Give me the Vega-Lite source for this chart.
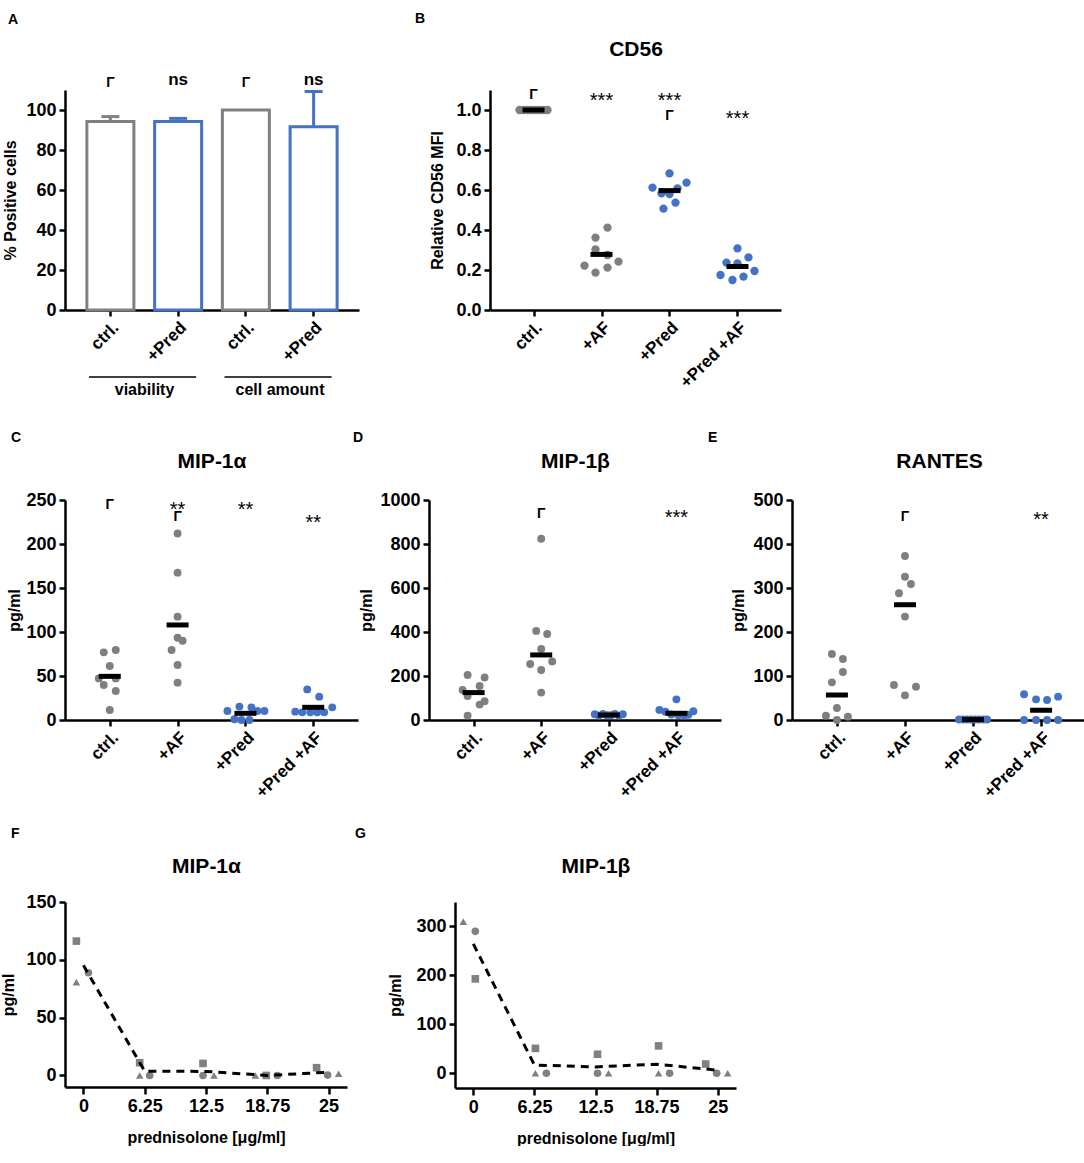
{
  "$schema": "https://vega.github.io/schema/vega-lite/v6.json",
  "padding": {"left": 0, "top": 12, "right": 0, "bottom": 0},
  "background": "white",
  "spacing": 33,
  "resolve": {"scale": {"color": "independent", "stroke": "independent", "shape": "independent"}},
  "config": {
    "font": "Liberation Sans",
    "view": {"stroke": null},
    "axis": {"grid": false, "domainColor": "#000", "domainWidth": 2.5, "tickColor": "#000", "tickWidth": 2.5, "tickSize": 6,
      "labelColor": "#000", "labelFont": "Liberation Sans", "labelFontWeight": "bold", "labelFontSize": 18, "labelPadding": 3,
      "titleColor": "#000", "titleFont": "Liberation Sans", "titleFontWeight": "bold", "titleFontSize": 16, "titlePadding": 6},
    "title": {"font": "Liberation Sans", "fontSize": 14, "fontWeight": "bold", "color": "#000", "anchor": "start", "frame": "bounds", "baseline": "bottom"},
    "text": {"font": "Liberation Sans", "color": "#000"}
  },
  "datasets": {
    "A_bars": [
      {"key": "viability|ctrl.", "value": 94.2, "upper": 96.7},
      {"key": "viability|+Pred", "value": 94.2, "upper": 95.8},
      {"key": "cell amount|ctrl.", "value": 100, "upper": null},
      {"key": "cell amount|+Pred", "value": 91.6, "upper": 109.2}
    ],
    "A_sig": [
      {"key": "viability|ctrl.", "label": "Γ", "pos": 113.5},
      {"key": "viability|+Pred", "label": "ns", "pos": 115},
      {"key": "cell amount|ctrl.", "label": "Γ", "pos": 113.5},
      {"key": "cell amount|+Pred", "label": "ns", "pos": 115}
    ],
    "A_groups": [
      {"assay": "viability", "from": "viability|ctrl.", "to": "viability|+Pred"},
      {"assay": "cell amount", "from": "cell amount|ctrl.", "to": "cell amount|+Pred"}
    ],
    "B_pts": [
      {"group": "ctrl.", "value": 1.0, "jitter": -14}, {"group": "ctrl.", "value": 1.0, "jitter": -10},
      {"group": "ctrl.", "value": 1.0, "jitter": -6}, {"group": "ctrl.", "value": 1.0, "jitter": -2},
      {"group": "ctrl.", "value": 1.0, "jitter": 2}, {"group": "ctrl.", "value": 1.0, "jitter": 6},
      {"group": "ctrl.", "value": 1.0, "jitter": 10}, {"group": "ctrl.", "value": 1.0, "jitter": 14},
      {"group": "+AF", "value": 0.412, "jitter": 6}, {"group": "+AF", "value": 0.362, "jitter": -6},
      {"group": "+AF", "value": 0.303, "jitter": -6}, {"group": "+AF", "value": 0.275, "jitter": 6},
      {"group": "+AF", "value": 0.222, "jitter": -17}, {"group": "+AF", "value": 0.242, "jitter": 17},
      {"group": "+AF", "value": 0.187, "jitter": -6}, {"group": "+AF", "value": 0.212, "jitter": 6},
      {"group": "+Pred", "value": 0.683, "jitter": 0}, {"group": "+Pred", "value": 0.612, "jitter": -17},
      {"group": "+Pred", "value": 0.637, "jitter": 17}, {"group": "+Pred", "value": 0.608, "jitter": 8},
      {"group": "+Pred", "value": 0.583, "jitter": -8}, {"group": "+Pred", "value": 0.58, "jitter": 0},
      {"group": "+Pred", "value": 0.537, "jitter": 6}, {"group": "+Pred", "value": 0.507, "jitter": -6},
      {"group": "+Pred +AF", "value": 0.308, "jitter": 0}, {"group": "+Pred +AF", "value": 0.237, "jitter": -11},
      {"group": "+Pred +AF", "value": 0.233, "jitter": 0}, {"group": "+Pred +AF", "value": 0.263, "jitter": 11},
      {"group": "+Pred +AF", "value": 0.175, "jitter": -17}, {"group": "+Pred +AF", "value": 0.195, "jitter": 17},
      {"group": "+Pred +AF", "value": 0.15, "jitter": -5}, {"group": "+Pred +AF", "value": 0.167, "jitter": 6}
    ],
    "B_mean": [
      {"group": "ctrl.", "center": 1.0}, {"group": "+AF", "center": 0.278},
      {"group": "+Pred", "center": 0.597}, {"group": "+Pred +AF", "center": 0.217}
    ],
    "B_sig": [
      {"group": "ctrl.", "label": "Γ", "pos": 1.075},
      {"group": "+AF", "label": "***", "pos": 1.062},
      {"group": "+Pred", "label": "***", "pos": 1.062},
      {"group": "+Pred", "label": "Γ", "pos": 0.97},
      {"group": "+Pred +AF", "label": "***", "pos": 0.97}
    ],
    "C_pts": [
      {"group": "ctrl.", "value": 76.9, "jitter": -6}, {"group": "ctrl.", "value": 79.5, "jitter": 6},
      {"group": "ctrl.", "value": 61.4, "jitter": 0}, {"group": "ctrl.", "value": 47.3, "jitter": -11},
      {"group": "ctrl.", "value": 47.3, "jitter": 6}, {"group": "ctrl.", "value": 39.8, "jitter": -6},
      {"group": "ctrl.", "value": 33, "jitter": 6}, {"group": "ctrl.", "value": 11.4, "jitter": 0},
      {"group": "+AF", "value": 212, "jitter": 0}, {"group": "+AF", "value": 167.4, "jitter": 0},
      {"group": "+AF", "value": 117.4, "jitter": 0}, {"group": "+AF", "value": 93.5, "jitter": 0},
      {"group": "+AF", "value": 90.1, "jitter": 5}, {"group": "+AF", "value": 79.5, "jitter": -6},
      {"group": "+AF", "value": 62.5, "jitter": 0}, {"group": "+AF", "value": 42.4, "jitter": 0},
      {"group": "+Pred", "value": 10.2, "jitter": -18}, {"group": "+Pred", "value": 15.2, "jitter": -6},
      {"group": "+Pred", "value": 14.4, "jitter": 6}, {"group": "+Pred", "value": 10.2, "jitter": 12},
      {"group": "+Pred", "value": 10.2, "jitter": 19}, {"group": "+Pred", "value": 0.8, "jitter": -11},
      {"group": "+Pred", "value": 0, "jitter": -4}, {"group": "+Pred", "value": 0, "jitter": 4},
      {"group": "+Pred +AF", "value": 34.8, "jitter": -6}, {"group": "+Pred +AF", "value": 26.5, "jitter": 6},
      {"group": "+Pred +AF", "value": 9.5, "jitter": -18}, {"group": "+Pred +AF", "value": 8.7, "jitter": -11},
      {"group": "+Pred +AF", "value": 8.7, "jitter": -3}, {"group": "+Pred +AF", "value": 8.7, "jitter": 4},
      {"group": "+Pred +AF", "value": 8.7, "jitter": 11}, {"group": "+Pred +AF", "value": 14.4, "jitter": 19}
    ],
    "C_mean": [
      {"group": "ctrl.", "center": 49.6}, {"group": "+AF", "center": 108},
      {"group": "+Pred", "center": 7.6}, {"group": "+Pred +AF", "center": 14.4}
    ],
    "C_sig": [
      {"group": "ctrl.", "label": "Γ", "pos": 244},
      {"group": "+AF", "label": "**", "pos": 242},
      {"group": "+AF", "label": "Γ", "pos": 230.7},
      {"group": "+Pred", "label": "**", "pos": 242},
      {"group": "+Pred +AF", "label": "**", "pos": 227}
    ],
    "D_pts": [
      {"group": "ctrl.", "value": 204.8, "jitter": -6}, {"group": "ctrl.", "value": 193, "jitter": 11},
      {"group": "ctrl.", "value": 154.7, "jitter": 6}, {"group": "ctrl.", "value": 136.5, "jitter": -11},
      {"group": "ctrl.", "value": 109.2, "jitter": -6}, {"group": "ctrl.", "value": 85, "jitter": 11},
      {"group": "ctrl.", "value": 70, "jitter": 6}, {"group": "ctrl.", "value": 20, "jitter": -6},
      {"group": "+AF", "value": 823.6, "jitter": 0}, {"group": "+AF", "value": 405, "jitter": -5},
      {"group": "+AF", "value": 391, "jitter": 6}, {"group": "+AF", "value": 323, "jitter": 0},
      {"group": "+AF", "value": 254.8, "jitter": -11}, {"group": "+AF", "value": 265.7, "jitter": 11},
      {"group": "+AF", "value": 227.5, "jitter": 0}, {"group": "+AF", "value": 124.7, "jitter": 0},
      {"group": "+Pred", "value": 26, "jitter": -14}, {"group": "+Pred", "value": 28, "jitter": -6},
      {"group": "+Pred", "value": 28, "jitter": 6}, {"group": "+Pred", "value": 26, "jitter": 14},
      {"group": "+Pred", "value": 20, "jitter": -10}, {"group": "+Pred", "value": 22, "jitter": -2},
      {"group": "+Pred", "value": 22, "jitter": 2}, {"group": "+Pred", "value": 20, "jitter": 10},
      {"group": "+Pred +AF", "value": 94, "jitter": 0}, {"group": "+Pred +AF", "value": 46, "jitter": -17},
      {"group": "+Pred +AF", "value": 38, "jitter": -11}, {"group": "+Pred +AF", "value": 40, "jitter": 17},
      {"group": "+Pred +AF", "value": 25, "jitter": -5}, {"group": "+Pred +AF", "value": 22, "jitter": 2},
      {"group": "+Pred +AF", "value": 20, "jitter": 8}, {"group": "+Pred +AF", "value": 24, "jitter": 12}
    ],
    "D_mean": [
      {"group": "ctrl.", "center": 124.6}, {"group": "+AF", "center": 295.8},
      {"group": "+Pred", "center": 22.7}, {"group": "+Pred +AF", "center": 30.5}
    ],
    "D_sig": [
      {"group": "+AF", "label": "Γ", "pos": 936},
      {"group": "+Pred +AF", "label": "***", "pos": 930}
    ],
    "E_pts": [
      {"group": "ctrl.", "value": 150, "jitter": -5}, {"group": "ctrl.", "value": 138.6, "jitter": 6},
      {"group": "ctrl.", "value": 109, "jitter": 6}, {"group": "ctrl.", "value": 85.6, "jitter": -5},
      {"group": "ctrl.", "value": 27.3, "jitter": 0}, {"group": "ctrl.", "value": 9.8, "jitter": -11},
      {"group": "ctrl.", "value": 7.6, "jitter": 11}, {"group": "ctrl.", "value": 0, "jitter": 0},
      {"group": "+AF", "value": 372.7, "jitter": 0}, {"group": "+AF", "value": 325.7, "jitter": 0},
      {"group": "+AF", "value": 309, "jitter": 6}, {"group": "+AF", "value": 288, "jitter": -6},
      {"group": "+AF", "value": 235, "jitter": 0}, {"group": "+AF", "value": 79.5, "jitter": -11},
      {"group": "+AF", "value": 75.8, "jitter": 11}, {"group": "+AF", "value": 56, "jitter": 0},
      {"group": "+Pred", "value": 1, "jitter": -14}, {"group": "+Pred", "value": 1, "jitter": -10},
      {"group": "+Pred", "value": 1, "jitter": -6}, {"group": "+Pred", "value": 1, "jitter": -2},
      {"group": "+Pred", "value": 1, "jitter": 2}, {"group": "+Pred", "value": 1, "jitter": 6},
      {"group": "+Pred", "value": 1, "jitter": 10}, {"group": "+Pred", "value": 1, "jitter": 14},
      {"group": "+Pred +AF", "value": 58.4, "jitter": -17}, {"group": "+Pred +AF", "value": 47, "jitter": -5},
      {"group": "+Pred +AF", "value": 45.5, "jitter": 6}, {"group": "+Pred +AF", "value": 53, "jitter": 17},
      {"group": "+Pred +AF", "value": 0, "jitter": -17}, {"group": "+Pred +AF", "value": 0, "jitter": -5},
      {"group": "+Pred +AF", "value": 0, "jitter": 6}, {"group": "+Pred +AF", "value": 0, "jitter": 17}
    ],
    "E_mean": [
      {"group": "ctrl.", "center": 56.8}, {"group": "+AF", "center": 262},
      {"group": "+Pred", "center": 1}, {"group": "+Pred +AF", "center": 22}
    ],
    "E_sig": [
      {"group": "+AF", "label": "Γ", "pos": 462},
      {"group": "+Pred +AF", "label": "**", "pos": 462}
    ],
    "F": [
      {"conc": "0", "donor": "a", "value": 116.2, "jitter": -7},
      {"conc": "0", "donor": "b", "value": 80.7, "jitter": -7},
      {"conc": "0", "donor": "c", "value": 88.8, "jitter": 5},
      {"conc": "6.25", "donor": "a", "value": 11, "jitter": -5},
      {"conc": "6.25", "donor": "b", "value": 0, "jitter": -5},
      {"conc": "6.25", "donor": "c", "value": 0, "jitter": 5},
      {"conc": "12.5", "donor": "a", "value": 10.4, "jitter": -3},
      {"conc": "12.5", "donor": "c", "value": 0, "jitter": -3},
      {"conc": "12.5", "donor": "b", "value": 0, "jitter": 8},
      {"conc": "18.75", "donor": "b", "value": 0, "jitter": -12},
      {"conc": "18.75", "donor": "a", "value": 0, "jitter": -1},
      {"conc": "18.75", "donor": "c", "value": 0, "jitter": 10},
      {"conc": "25", "donor": "a", "value": 6.7, "jitter": -12},
      {"conc": "25", "donor": "c", "value": 0.3, "jitter": -1},
      {"conc": "25", "donor": "b", "value": 1.5, "jitter": 10}
    ],
    "G": [
      {"conc": "0", "donor": "b", "value": 310, "jitter": -10},
      {"conc": "0", "donor": "c", "value": 290, "jitter": 2},
      {"conc": "0", "donor": "a", "value": 193, "jitter": 2},
      {"conc": "6.25", "donor": "a", "value": 51, "jitter": 1},
      {"conc": "6.25", "donor": "b", "value": 0, "jitter": 1},
      {"conc": "6.25", "donor": "c", "value": 0, "jitter": 12},
      {"conc": "12.5", "donor": "a", "value": 39, "jitter": 2},
      {"conc": "12.5", "donor": "c", "value": 0, "jitter": 2},
      {"conc": "12.5", "donor": "b", "value": 0, "jitter": 13},
      {"conc": "18.75", "donor": "a", "value": 56, "jitter": 2},
      {"conc": "18.75", "donor": "b", "value": 0, "jitter": 2},
      {"conc": "18.75", "donor": "c", "value": 0, "jitter": 13},
      {"conc": "25", "donor": "a", "value": 19, "jitter": -12},
      {"conc": "25", "donor": "c", "value": 0, "jitter": -1},
      {"conc": "25", "donor": "b", "value": 0, "jitter": 10}
    ]
  },
  "vconcat": [
    {
      "hconcat": [
        {
          "width": 294, "height": 220,
          "title": {"text": "A", "offset": 44, "dx": 5},
          "layer": [
            {"data": {"name": "A_bars"},
              "mark": {"type": "bar", "fill": "white", "strokeWidth": 3, "size": 47},
              "encoding": {
                "x": {"field": "key", "type": "nominal", "scale": {"type": "band", "paddingInner": 0.3, "paddingOuter": 0.32, "domain": ["viability|ctrl.", "viability|+Pred", "cell amount|ctrl.", "cell amount|+Pred"]},
                  "axis": {"title": null, "labelAngle": -45, "labelFontSize": 17, "labelExpr": "split(datum.value, '|')[1]"}},
                "y": {"field": "value", "type": "quantitative", "scale": {"domain": [0, 110], "nice": false}, "axis": {"title": "% Positive cells", "values": [0, 20, 40, 60, 80, 100], "titlePadding": 7}},
                "stroke": {"field": "key", "type": "nominal", "scale": {"domain": ["viability|ctrl.", "viability|+Pred", "cell amount|ctrl.", "cell amount|+Pred"], "range": ["#808080", "#4472c4", "#808080", "#4472c4"]}, "legend": null}
              }},
            {"data": {"name": "A_bars"}, "transform": [{"filter": "isValid(datum.upper)"}],
              "mark": {"type": "rule", "strokeWidth": 3},
              "encoding": {
                "x": {"field": "key", "type": "nominal"},
                "y": {"field": "value", "type": "quantitative"},
                "y2": {"field": "upper"},
                "color": {"field": "key", "type": "nominal", "scale": {"domain": ["viability|ctrl.", "viability|+Pred", "cell amount|ctrl.", "cell amount|+Pred"], "range": ["#808080", "#4472c4", "#808080", "#4472c4"]}, "legend": null}
              }},
            {"data": {"name": "A_bars"}, "transform": [{"filter": "isValid(datum.upper)"}],
              "mark": {"type": "tick", "thickness": 3, "size": 18, "opacity": 1},
              "encoding": {
                "x": {"field": "key", "type": "nominal"},
                "y": {"field": "upper", "type": "quantitative"},
                "color": {"field": "key", "type": "nominal", "scale": {"domain": ["viability|ctrl.", "viability|+Pred", "cell amount|ctrl.", "cell amount|+Pred"], "range": ["#808080", "#4472c4", "#808080", "#4472c4"]}, "legend": null}
              }},
            {"data": {"name": "A_sig"}, "transform": [{"filter": "datum.label == 'Γ'"}],
              "mark": {"type": "text", "fontSize": 14, "fontWeight": "bold", "baseline": "middle"},
              "encoding": {"x": {"field": "key", "type": "nominal"}, "y": {"field": "pos", "type": "quantitative"}, "text": {"field": "label"}}},
            {"data": {"name": "A_sig"}, "transform": [{"filter": "datum.label == 'ns'"}],
              "mark": {"type": "text", "fontSize": 17, "fontWeight": "bold", "baseline": "middle"},
              "encoding": {"x": {"field": "key", "type": "nominal"}, "y": {"field": "pos", "type": "quantitative"}, "text": {"field": "label"}}},
            {"data": {"name": "A_groups"},
              "mark": {"type": "rule", "strokeWidth": 1.5, "color": "#000"},
              "encoding": {"x": {"field": "from", "type": "nominal", "bandPosition": 0.05}, "x2": {"field": "to", "bandPosition": 0.88}, "y": {"datum": -33.5}}},
            {"data": {"name": "A_groups"},
              "mark": {"type": "text", "fontSize": 16, "fontWeight": "bold", "baseline": "middle"},
              "encoding": {"x": {"field": "from", "type": "nominal", "bandPosition": 1.22}, "y": {"datum": -40}, "text": {"field": "assay"}}}
          ]
        },
        {
          "width": 291, "height": 220,
          "title": {"text": "B", "offset": 12, "dx": -15},
          "resolve": {"axis": {"x": "independent"}},
          "layer": [
            {"data": {"name": "B_pts"},
              "mark": {"type": "circle", "size": 70, "opacity": 1},
              "encoding": {
                "x": {"field": "group", "type": "nominal", "scale": {"type": "point", "padding": 0.64, "domain": ["ctrl.", "+AF", "+Pred", "+Pred +AF"]}, "axis": {"title": null, "labelAngle": -45, "labelFontSize": 17}},
                "xOffset": {"field": "jitter", "type": "quantitative", "scale": {"domain": [-30, 30], "range": [-30, 30]}},
                "y": {"field": "value", "type": "quantitative", "scale": {"domain": [0, 1.1], "nice": false}, "axis": {"title": "Relative CD56 MFI", "values": [0, 0.2, 0.4, 0.6, 0.8, 1.0], "format": ".1f", "titlePadding": 10}},
                "color": {"field": "group", "type": "nominal", "scale": {"domain": ["ctrl.", "+AF", "+Pred", "+Pred +AF"], "range": ["#7f7f7f", "#7f7f7f", "#4472c4", "#4472c4"]}, "legend": null}
              }},
            {"data": {"name": "B_mean"},
              "mark": {"type": "tick", "color": "#000", "thickness": 5, "size": 22, "opacity": 1},
              "encoding": {
                "x": {"field": "group", "type": "nominal", "axis": {"orient": "top", "title": "CD56", "labels": false, "ticks": false, "domain": false, "titleFontSize": 21, "titlePadding": 31, "minExtent": 0, "maxExtent": 0}},
                "y": {"field": "center", "type": "quantitative"}
              }},
            {"data": {"name": "B_sig"}, "transform": [{"filter": "datum.label == 'Γ'"}],
              "mark": {"type": "text", "fontSize": 14, "fontWeight": "bold", "baseline": "middle"},
              "encoding": {"x": {"field": "group", "type": "nominal", "axis": null}, "y": {"field": "pos", "type": "quantitative"}, "text": {"field": "label"}}},
            {"data": {"name": "B_sig"}, "transform": [{"filter": "datum.label != 'Γ'"}],
              "mark": {"type": "text", "fontSize": 20, "fontWeight": "normal", "baseline": "middle", "dy": 3},
              "encoding": {"x": {"field": "group", "type": "nominal", "axis": null}, "y": {"field": "pos", "type": "quantitative"}, "text": {"field": "label"}}}
          ]
        }
      ],
      "spacing": 131,
      "bounds": "flush",
      "resolve": {"scale": {"color": "independent", "stroke": "independent", "shape": "independent"}}
    },
    {
      "vconcat": [
        {
          "hconcat": [
            {
              "width": 293, "height": 220,
              "title": {"text": "C", "offset": 5, "dx": 4},
              "resolve": {"axis": {"x": "independent"}},
              "layer": [
                {"data": {"name": "C_pts"},
                  "mark": {"type": "circle", "size": 62, "opacity": 1},
                  "encoding": {
                    "x": {"field": "group", "type": "nominal", "scale": {"type": "point", "padding": 0.66, "domain": ["ctrl.", "+AF", "+Pred", "+Pred +AF"]}, "axis": {"title": null, "labelAngle": -45, "labelFontSize": 17}},
                    "xOffset": {"field": "jitter", "type": "quantitative", "scale": {"domain": [-30, 30], "range": [-30, 30]}},
                    "y": {"field": "value", "type": "quantitative", "scale": {"domain": [0, 250], "nice": false}, "axis": {"title": "pg/ml", "values": [0, 50, 100, 150, 200, 250], "titlePadding": 3}},
                    "color": {"field": "group", "type": "nominal", "scale": {"domain": ["ctrl.", "+AF", "+Pred", "+Pred +AF"], "range": ["#7f7f7f", "#7f7f7f", "#4472c4", "#4472c4"]}, "legend": null}
                  }},
                {"data": {"name": "C_mean"},
                  "mark": {"type": "tick", "color": "#000", "thickness": 5, "size": 22, "opacity": 1},
                  "encoding": {
                    "x": {"field": "group", "type": "nominal", "axis": {"orient": "top", "title": "MIP-1α", "labels": false, "ticks": false, "domain": false, "titleFontSize": 21, "titlePadding": 29, "minExtent": 0, "maxExtent": 0}},
                    "y": {"field": "center", "type": "quantitative"}
                  }},
                {"data": {"name": "C_sig"}, "transform": [{"filter": "datum.label == 'Γ'"}],
                  "mark": {"type": "text", "fontSize": 14, "fontWeight": "bold", "baseline": "middle"},
                  "encoding": {"x": {"field": "group", "type": "nominal", "axis": null}, "y": {"field": "pos", "type": "quantitative"}, "text": {"field": "label"}}},
                {"data": {"name": "C_sig"}, "transform": [{"filter": "datum.label != 'Γ'"}],
                  "mark": {"type": "text", "fontSize": 20, "fontWeight": "normal", "baseline": "middle", "dy": 3},
                  "encoding": {"x": {"field": "group", "type": "nominal", "axis": null}, "y": {"field": "pos", "type": "quantitative"}, "text": {"field": "label"}}}
              ]
            },
            {
              "width": 292, "height": 220,
              "title": {"text": "D", "offset": 5, "dx": -6},
              "resolve": {"axis": {"x": "independent"}},
              "layer": [
                {"data": {"name": "D_pts"},
                  "mark": {"type": "circle", "size": 62, "opacity": 1},
                  "encoding": {
                    "x": {"field": "group", "type": "nominal", "scale": {"type": "point", "padding": 0.66, "domain": ["ctrl.", "+AF", "+Pred", "+Pred +AF"]}, "axis": {"title": null, "labelAngle": -45, "labelFontSize": 17}},
                    "xOffset": {"field": "jitter", "type": "quantitative", "scale": {"domain": [-30, 30], "range": [-30, 30]}},
                    "y": {"field": "value", "type": "quantitative", "scale": {"domain": [0, 1000], "nice": false}, "axis": {"title": "pg/ml", "values": [0, 200, 400, 600, 800, 1000], "format": "d", "titlePadding": 5}},
                    "color": {"field": "group", "type": "nominal", "scale": {"domain": ["ctrl.", "+AF", "+Pred", "+Pred +AF"], "range": ["#7f7f7f", "#7f7f7f", "#4472c4", "#4472c4"]}, "legend": null}
                  }},
                {"data": {"name": "D_mean"},
                  "mark": {"type": "tick", "color": "#000", "thickness": 5, "size": 22, "opacity": 1},
                  "encoding": {
                    "x": {"field": "group", "type": "nominal", "axis": {"orient": "top", "title": "MIP-1β", "labels": false, "ticks": false, "domain": false, "titleFontSize": 21, "titlePadding": 29, "minExtent": 0, "maxExtent": 0}},
                    "y": {"field": "center", "type": "quantitative"}
                  }},
                {"data": {"name": "D_sig"}, "transform": [{"filter": "datum.label == 'Γ'"}],
                  "mark": {"type": "text", "fontSize": 14, "fontWeight": "bold", "baseline": "middle"},
                  "encoding": {"x": {"field": "group", "type": "nominal", "axis": null}, "y": {"field": "pos", "type": "quantitative"}, "text": {"field": "label"}}},
                {"data": {"name": "D_sig"}, "transform": [{"filter": "datum.label != 'Γ'"}],
                  "mark": {"type": "text", "fontSize": 20, "fontWeight": "normal", "baseline": "middle", "dy": 3},
                  "encoding": {"x": {"field": "group", "type": "nominal", "axis": null}, "y": {"field": "pos", "type": "quantitative"}, "text": {"field": "label"}}}
              ]
            },
            {
              "width": 294, "height": 220,
              "title": {"text": "E", "offset": 5, "dx": -23},
              "resolve": {"axis": {"x": "independent"}},
              "layer": [
                {"data": {"name": "E_pts"},
                  "mark": {"type": "circle", "size": 62, "opacity": 1},
                  "encoding": {
                    "x": {"field": "group", "type": "nominal", "scale": {"type": "point", "padding": 0.66, "domain": ["ctrl.", "+AF", "+Pred", "+Pred +AF"]}, "axis": {"title": null, "labelAngle": -45, "labelFontSize": 17}},
                    "xOffset": {"field": "jitter", "type": "quantitative", "scale": {"domain": [-30, 30], "range": [-30, 30]}},
                    "y": {"field": "value", "type": "quantitative", "scale": {"domain": [0, 500], "nice": false}, "axis": {"title": "pg/ml", "values": [0, 100, 200, 300, 400, 500], "titlePadding": 6}},
                    "color": {"field": "group", "type": "nominal", "scale": {"domain": ["ctrl.", "+AF", "+Pred", "+Pred +AF"], "range": ["#7f7f7f", "#7f7f7f", "#4472c4", "#4472c4"]}, "legend": null}
                  }},
                {"data": {"name": "E_mean"},
                  "mark": {"type": "tick", "color": "#000", "thickness": 5, "size": 22, "opacity": 1},
                  "encoding": {
                    "x": {"field": "group", "type": "nominal", "axis": {"orient": "top", "title": "RANTES", "labels": false, "ticks": false, "domain": false, "titleFontSize": 21, "titlePadding": 29, "minExtent": 0, "maxExtent": 0}},
                    "y": {"field": "center", "type": "quantitative"}
                  }},
                {"data": {"name": "E_sig"}, "transform": [{"filter": "datum.label == 'Γ'"}],
                  "mark": {"type": "text", "fontSize": 14, "fontWeight": "bold", "baseline": "middle"},
                  "encoding": {"x": {"field": "group", "type": "nominal", "axis": null}, "y": {"field": "pos", "type": "quantitative"}, "text": {"field": "label"}}},
                {"data": {"name": "E_sig"}, "transform": [{"filter": "datum.label != 'Γ'"}],
                  "mark": {"type": "text", "fontSize": 20, "fontWeight": "normal", "baseline": "middle", "dy": 3},
                  "encoding": {"x": {"field": "group", "type": "nominal", "axis": null}, "y": {"field": "pos", "type": "quantitative"}, "text": {"field": "label"}}}
              ]
            }
          ],
          "spacing": 71,
          "bounds": "flush",
          "resolve": {"scale": {"color": "independent", "stroke": "independent", "shape": "independent"}}
        },
        {
          "hconcat": [
            {
              "width": 282, "height": 185,
              "title": {"text": "F", "offset": 14, "dx": 10},
              "resolve": {"axis": {"x": "independent"}},
              "layer": [
                {"data": {"name": "F"},
                  "mark": {"type": "point", "filled": true, "opacity": 1, "size": 58, "color": "#808080"},
                  "encoding": {
                    "x": {"field": "conc", "type": "ordinal", "scale": {"type": "point", "padding": 0.3, "domain": ["0", "6.25", "12.5", "18.75", "25"]},
                      "axis": {"orient": "top", "title": "MIP-1α", "labels": false, "ticks": false, "domain": false, "titleFontSize": 21, "titlePadding": 26, "minExtent": 0, "maxExtent": 0}},
                    "xOffset": {"field": "jitter", "type": "quantitative", "scale": {"domain": [-30, 30], "range": [-30, 30]}},
                    "y": {"field": "value", "type": "quantitative", "scale": {"domain": [-10, 150], "nice": false}, "axis": {"title": "pg/ml", "values": [0, 50, 100, 150], "titlePadding": 9}},
                    "shape": {"field": "donor", "type": "nominal", "scale": {"domain": ["a", "b", "c"], "range": ["square", "triangle-up", "circle"]}, "legend": null}
                  }},
                {"data": {"name": "F"},
                  "mark": {"type": "line", "color": "#000", "strokeWidth": 3, "strokeDash": [8, 6]},
                  "encoding": {
                    "x": {"field": "conc", "type": "ordinal", "axis": {"title": "prednisolone [μg/ml]", "labelAngle": 0, "labelFontSize": 18, "tickSize": 7, "titlePadding": 14}},
                    "y": {"aggregate": "mean", "field": "value", "type": "quantitative"}
                  }}
              ]
            },
            {
              "width": 281, "height": 186,
              "title": {"text": "G", "offset": 14, "dx": -33},
              "resolve": {"axis": {"x": "independent"}},
              "layer": [
                {"data": {"name": "G"},
                  "mark": {"type": "point", "filled": true, "opacity": 1, "size": 58, "color": "#808080"},
                  "encoding": {
                    "x": {"field": "conc", "type": "ordinal", "scale": {"type": "point", "padding": 0.3, "domain": ["0", "6.25", "12.5", "18.75", "25"]},
                      "axis": {"orient": "top", "title": "MIP-1β", "labels": false, "ticks": false, "domain": false, "titleFontSize": 21, "titlePadding": 26, "minExtent": 0, "maxExtent": 0}},
                    "xOffset": {"field": "jitter", "type": "quantitative", "scale": {"domain": [-30, 30], "range": [-30, 30]}},
                    "y": {"field": "value", "type": "quantitative", "scale": {"domain": [-30, 350], "nice": false}, "axis": {"title": "pg/ml", "values": [0, 100, 200, 300], "titlePadding": 12}},
                    "shape": {"field": "donor", "type": "nominal", "scale": {"domain": ["a", "b", "c"], "range": ["square", "triangle-up", "circle"]}, "legend": null}
                  }},
                {"data": {"name": "G"},
                  "mark": {"type": "line", "color": "#000", "strokeWidth": 3, "strokeDash": [8, 6]},
                  "encoding": {
                    "x": {"field": "conc", "type": "ordinal", "axis": {"title": "prednisolone [μg/ml]", "labelAngle": 0, "labelFontSize": 18, "tickSize": 7, "titlePadding": 14}},
                    "y": {"aggregate": "mean", "field": "value", "type": "quantitative"}
                  }}
              ]
            }
          ],
          "spacing": 108,
          "bounds": "flush",
          "resolve": {"scale": {"color": "independent", "stroke": "independent", "shape": "independent"}}
        }
      ],
      "spacing": 26,
      "resolve": {"scale": {"color": "independent", "stroke": "independent", "shape": "independent"}}
    }
  ]
}
